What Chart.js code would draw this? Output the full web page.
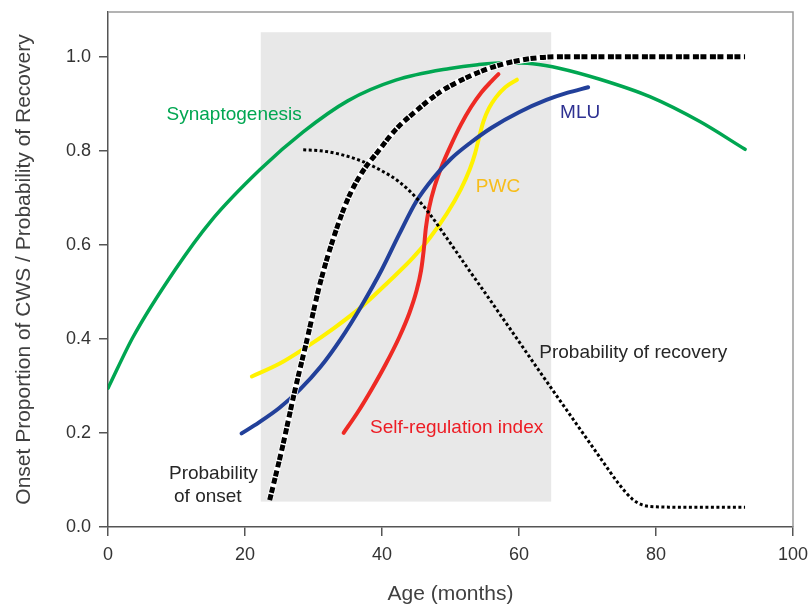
<!DOCTYPE html>
<html>
<head>
<meta charset="utf-8">
<script src="https://cdn.jsdelivr.net/npm/chart.js@4.4.1/dist/chart.umd.min.js"></script>
<style>
  html, body { margin: 0; padding: 0; background: #ffffff; }
  #wrap { width: 809px; height: 607px; }
</style>
</head>
<body>
<div id="wrap"><canvas id="c" width="809" height="607"></canvas></div>
<script>
// ---- Data ----
const xTicks = [0, 20, 40, 60, 80, 100];
const yTicks = [0.0, 0.2, 0.4, 0.6, 0.8, 1.0];

const synX = [0, 3.7, 9.8, 15, 22.2, 28.5, 35, 42, 49.9, 54, 58, 62, 66, 71.8, 79.1, 86.4, 93];
const synY = [0.295, 0.405, 0.547, 0.65, 0.76, 0.84, 0.906, 0.950, 0.975, 0.983, 0.987, 0.985, 0.975, 0.952, 0.915, 0.862, 0.803];

const onsetX = [23.6, 25.5, 27.2, 29, 31, 33, 35, 37, 39.5, 42, 45, 48.5, 52, 56, 60, 64, 68, 93];
const onsetY = [0.057, 0.172, 0.285, 0.395, 0.52, 0.618, 0.697, 0.752, 0.800, 0.845, 0.885, 0.925, 0.953, 0.977, 0.992, 0.999, 1.0, 1.0];

const recovX = [28.5, 31, 34, 37, 40, 42.5, 45, 47, 49, 52, 56, 60, 64, 68, 72, 74.5, 76.5, 78, 80, 85, 93];
const recovY = [0.802, 0.800, 0.792, 0.778, 0.757, 0.734, 0.700, 0.665, 0.624, 0.561, 0.478, 0.394, 0.310, 0.227, 0.144, 0.093, 0.060, 0.047, 0.043, 0.042, 0.042];

const mluX = [19.5, 22, 25, 28, 31, 34, 37, 40, 42.5, 45, 47.5, 50, 53, 56, 60, 64, 67, 70.1];
const mluY = [0.199, 0.222, 0.253, 0.292, 0.340, 0.400, 0.470, 0.548, 0.622, 0.692, 0.742, 0.782, 0.818, 0.849, 0.882, 0.908, 0.923, 0.935];

const selfX = [34.4, 36.5, 38.5, 40.5, 42.5, 44, 45, 45.7, 46.1, 46.4, 46.9, 47.7, 48.8, 50, 51.5, 53, 54.5, 56, 57];
const selfY = [0.200, 0.245, 0.293, 0.345, 0.403, 0.455, 0.500, 0.545, 0.590, 0.635, 0.680, 0.725, 0.770, 0.810, 0.855, 0.893, 0.924, 0.948, 0.963];

const pwcX = [21, 25, 29, 33, 37, 41, 44.5, 47, 49.5, 51.5, 52.8, 53.6, 54.2, 54.8, 55.6, 56.6, 58, 59.7];
const pwcY = [0.32, 0.347, 0.383, 0.423, 0.468, 0.522, 0.572, 0.615, 0.667, 0.718, 0.76, 0.795, 0.83, 0.862, 0.89, 0.913, 0.935, 0.951];

// shaded age band (months) and its vertical extent
const bandX = [22.3, 64.7];
const bandY = [0.054, 1.052];

const FONT = "'Liberation Sans', Arial, Helvetica, sans-serif";

const labels = [
  { text: 'Synaptogenesis', x: 8.55, y: 0.865, color: '#00a651' },
  { text: 'MLU', x: 66.0, y: 0.870, color: '#2e3192' },
  { text: 'PWC', x: 53.7, y: 0.713, color: '#f7bd1b' },
  { text: 'Probability of recovery', x: 62.96, y: 0.359, color: '#262626' },
  { text: 'Self-regulation index', x: 38.25, y: 0.2006, color: '#ed1c24' },
  { text: 'Probability', x: 8.9, y: 0.1015, color: '#262626' },
  { text: 'of onset', x: 9.64, y: 0.054, color: '#262626' }
];

const pts = (xs, ys) => xs.map((v, i) => ({ x: v, y: ys[i] }));

const decor = {
  id: 'decor',
  beforeDatasetsDraw(chart) {
    const { ctx, scales: { x, y } } = chart;
    ctx.save();
    ctx.fillStyle = '#e8e8e8';
    const x0 = x.getPixelForValue(bandX[0]), x1 = x.getPixelForValue(bandX[1]);
    const y0 = y.getPixelForValue(bandY[1]), y1 = y.getPixelForValue(bandY[0]);
    ctx.fillRect(x0, y0, x1 - x0, y1 - y0);
    ctx.restore();
  },
  afterDatasetsDraw(chart) {
    const { ctx, chartArea, scales: { x, y } } = chart;
    ctx.save();
    ctx.font = '19px ' + FONT;
    ctx.textAlign = 'left';
    ctx.textBaseline = 'alphabetic';
    labels.forEach(l => {
      ctx.fillStyle = l.color;
      ctx.fillText(l.text, x.getPixelForValue(l.x), y.getPixelForValue(l.y));
    });
    // top and right frame
    ctx.strokeStyle = '#9a9a9a';
    ctx.lineWidth = 1.5;
    ctx.beginPath();
    ctx.moveTo(chartArea.left, chartArea.top);
    ctx.lineTo(chartArea.right, chartArea.top);
    ctx.lineTo(chartArea.right, chartArea.bottom);
    ctx.stroke();
    ctx.restore();
  }
};

const common = { pointRadius: 0, fill: false, cubicInterpolationMode: 'monotone', borderCapStyle: 'round' };

new Chart(document.getElementById('c'), {
  type: 'line',
  data: {
    datasets: [
      Object.assign({}, common, { label: 'Probability of onset', data: pts(onsetX, onsetY), borderColor: '#000000', borderWidth: 5, borderDash: [6, 1.5, 6, 3.5], borderCapStyle: 'butt' }),
      Object.assign({}, common, { label: 'onset-halo', data: pts(onsetX, onsetY), borderColor: '#ffffff', borderWidth: 6.5, borderCapStyle: 'butt' }),
      Object.assign({}, common, { label: 'Probability of recovery', data: pts(recovX, recovY), borderColor: '#000000', borderWidth: 3, borderDash: [3, 2.5], borderCapStyle: 'butt' }),
      Object.assign({}, common, { label: 'MLU', data: pts(mluX, mluY), borderColor: '#22409a', borderWidth: 4 }),
      Object.assign({}, common, { label: 'Self-regulation index', data: pts(selfX, selfY), borderColor: '#ee2a24', borderWidth: 4 }),
      Object.assign({}, common, { label: 'PWC', data: pts(pwcX, pwcY), borderColor: '#fff200', borderWidth: 4 }),
      Object.assign({}, common, { label: 'Synaptogenesis', data: pts(synX, synY), borderColor: '#00a651', borderWidth: 3.5 })
    ]
  },
  options: {
    responsive: false,
    devicePixelRatio: 1,
    animation: false,
    layout: { padding: { left: 0, right: 16, top: 12, bottom: 0 } },
    plugins: { legend: { display: false }, tooltip: { enabled: false } },
    scales: {
      x: {
        type: 'linear', min: 0, max: 100,
        afterFit: s => { s.height = 80; s.paddingLeft = 0; s.paddingRight = 0; },
        afterBuildTicks: s => { s.ticks = xTicks.map(v => ({ value: v })); },
        ticks: { font: { size: 18, family: FONT }, color: '#333333', padding: 8 },
        grid: { drawOnChartArea: false, drawTicks: true, tickLength: 9, color: '#555555', lineWidth: 1.5 },
        border: { color: '#555555', width: 1.5 },
        title: { display: true, text: 'Age (months)', color: '#404040', font: { size: 21, family: FONT }, padding: { top: 0, bottom: 0 } }
      },
      y: {
        type: 'linear', min: 0, max: 1.095,
        afterFit: s => { s.width = 108; s.paddingTop = 0; s.paddingBottom = 0; },
        afterBuildTicks: s => { s.ticks = yTicks.map(v => ({ value: v })); },
        ticks: { font: { size: 18, family: FONT }, color: '#333333', padding: 8, callback: v => Number(v).toFixed(1) },
        grid: { drawOnChartArea: false, drawTicks: true, tickLength: 9, color: '#555555', lineWidth: 1.5 },
        border: { color: '#555555', width: 1.5 },
        title: { display: true, text: 'Onset Proportion of CWS / Probability of Recovery', color: '#404040', font: { size: 21, family: FONT }, padding: { top: 12, bottom: 0 } }
      }
    }
  },
  plugins: [decor]
});
</script>
</body>
</html>
